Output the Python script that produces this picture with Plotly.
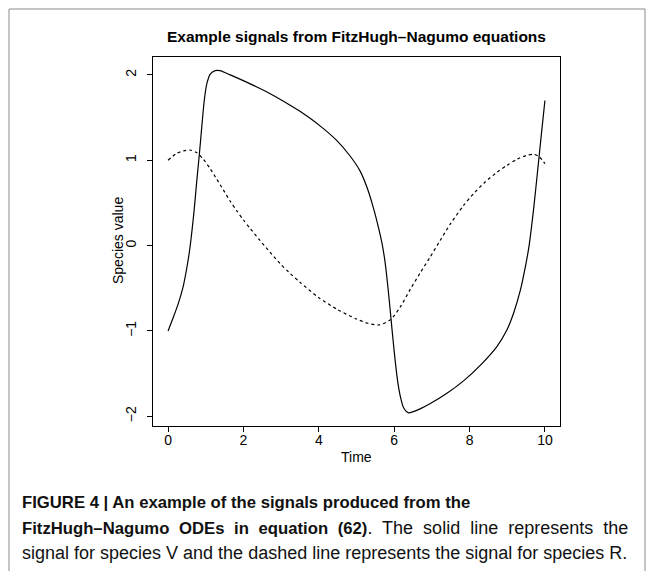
import plotly.graph_objects as go

# Species V (solid line) values
time_v = [0.00, 0.14, 0.27, 0.40, 0.49, 0.56, 0.61, 0.67, 0.72, 0.76, 0.83, 0.90, 0.96, 1.03,
          1.12, 1.25, 1.38, 1.65, 2.18, 2.71, 3.24, 3.51, 4.04, 4.48, 4.83, 5.10, 5.28, 5.45,
          5.59, 5.68, 5.76, 5.82, 5.88, 5.94, 6.00, 6.06, 6.12, 6.18, 6.25, 6.38, 6.51, 6.70,
          6.96, 7.40, 7.84, 8.29, 8.73, 8.99, 9.17, 9.35, 9.48, 9.58, 9.70, 9.80, 9.90, 10.00]
species_v = [-1.00, -0.84, -0.68, -0.48, -0.28, -0.09, 0.08, 0.32, 0.55, 0.75, 1.07, 1.42, 1.70, 1.90,
             2.01, 2.05, 2.05, 2.00, 1.895, 1.78, 1.645, 1.57, 1.40, 1.23, 1.05, 0.87, 0.68, 0.44,
             0.20, 0.02, -0.20, -0.43, -0.69, -0.97, -1.24, -1.48, -1.67, -1.80, -1.90, -1.96, -1.945, -1.91,
             -1.85, -1.73, -1.585, -1.40, -1.18, -0.99, -0.79, -0.52, -0.25, 0.00, 0.43, 0.85, 1.28, 1.70]

# Species R (dashed line) values
time_r = [0.00, 0.23, 0.41, 0.58, 0.76, 0.94, 1.12, 1.29, 1.47, 1.65, 1.82, 2.00, 2.18, 2.44,
          2.71, 2.97, 3.20, 3.50, 4.00, 4.50, 5.00, 5.30, 5.60, 5.90, 6.16, 6.43, 6.69, 6.96,
          7.22, 7.50, 7.84, 8.11, 8.40, 8.73, 8.99, 9.25, 9.50, 9.70, 9.85, 10.00]
species_r = [1.00, 1.08, 1.11, 1.12, 1.09, 1.01, 0.90, 0.78, 0.65, 0.52, 0.41, 0.30, 0.20, 0.06,
             -0.08, -0.21, -0.31, -0.43, -0.61, -0.75, -0.86, -0.91, -0.93, -0.87, -0.72, -0.51, -0.32, -0.13,
             0.06, 0.26, 0.47, 0.61, 0.74, 0.86, 0.94, 1.01, 1.055, 1.07, 1.04, 0.96]

x_ticks = [0, 2, 4, 6, 8, 10]
y_ticks = [-2, -1, 0, 1, 2]
y_tick_text = ["\u22122", "\u22121", "0", "1", "2"]

title_text = "<b>Example signals from FitzHugh\u2013Nagumo equations</b>"
cap1 = '<span style="font-size:16.7px"><b>FIGURE 4 | An example of the signals produced from the</b></span>'
cap2 = ('<span style="word-spacing:5px"><span style="font-size:16.7px"><b>FitzHugh\u2013Nagumo ODEs in '
        'equation (62)</b></span>. The solid line represents the</span>')
cap3 = "signal for species V and the dashed line represents the signal for species R."

FONT = "Liberation Sans, Arial, Helvetica, sans-serif"
W, H = 654, 571
L, R, T, B = 153, 94, 57, 145
PW, PH = W - L - R, H - T - B

def px(x):
    return (x - L) / PW

def py(y):
    return (H - B - y) / PH

fig = go.Figure()
fig.add_trace(go.Scatter(x=time_v, y=species_v, mode="lines",
                         line=dict(color="black", width=1.2, shape="spline", smoothing=0.7),
                         hoverinfo="skip", showlegend=False))
fig.add_trace(go.Scatter(x=time_r, y=species_r, mode="lines",
                         line=dict(color="black", width=1.2, dash="3px,3px", shape="spline", smoothing=0.7),
                         hoverinfo="skip", showlegend=False))

fig.update_layout(
    width=W, height=H,
    margin=dict(l=L, r=R, t=T, b=B, pad=0),
    paper_bgcolor="white", plot_bgcolor="white",
    font=dict(family=FONT, color="black", size=14),
    xaxis=dict(range=[-0.4, 10.4], tickvals=x_ticks, ticks="outside", ticklen=5,
               tickcolor="black", showgrid=False, zeroline=False, showline=True,
               linecolor="black", linewidth=1, mirror=True, ticklabelstandoff=-4,
               tickfont=dict(size=14, family=FONT)),
    yaxis=dict(range=[-2.114, 2.21], tickvals=y_ticks, ticktext=y_tick_text,
               ticks="outside", ticklen=5, tickcolor="black", tickangle=-90,
               ticklabelstandoff=5,
               showgrid=False, zeroline=False, showline=True, linecolor="black",
               linewidth=1, mirror=True, tickfont=dict(size=14, family=FONT)),
)

cap_font = dict(size=18, family=FONT, color="#111111")
ann = []
ann.append(dict(text=title_text, x=px(356), y=py(37), xref="paper", yref="paper",
                showarrow=False, font=dict(size=15.5, family=FONT), xanchor="center", yanchor="middle"))
ann.append(dict(text="Time", x=px(356), y=py(457), xref="paper", yref="paper",
                showarrow=False, font=dict(size=14, family=FONT), xanchor="center", yanchor="middle"))
ann.append(dict(text="Species value", x=px(118), y=py(241), xref="paper", yref="paper",
                showarrow=False, textangle=-90, font=dict(size=14, family=FONT),
                xanchor="center", yanchor="middle"))
for i, line in enumerate([cap1, cap2, cap3]):
    ann.append(dict(text=line, x=px(20), y=py(503 + 25 * i), xref="paper", yref="paper",
                    showarrow=False, font=cap_font, xanchor="left", yanchor="middle"))
fig.update_layout(annotations=ann)

fig.add_shape(type="rect", xref="paper", yref="paper",
              x0=px(9), x1=px(645), y0=py(600), y1=py(9),
              line=dict(color="#8a8a8a", width=1), fillcolor="rgba(0,0,0,0)", layer="below")

fig.write_html("out.html")
